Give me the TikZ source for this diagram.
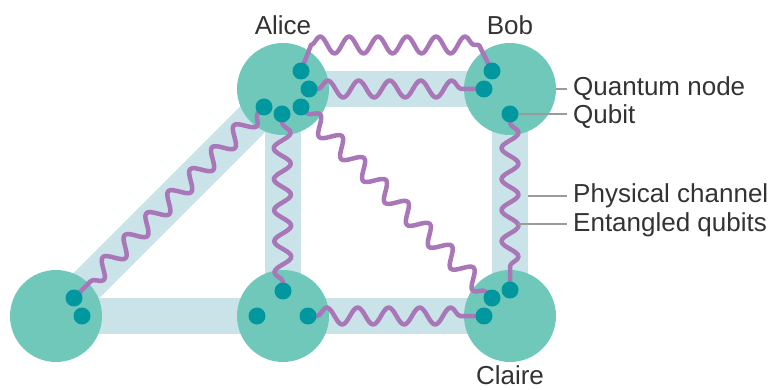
\documentclass[tikz,border=0pt]{standalone}
\usepackage{fontspec}
\setmainfont{Liberation Sans}
\usetikzlibrary{decorations.pathmorphing}
\definecolor{chan}{HTML}{C9E3E8}
\definecolor{qnode}{HTML}{6FC8BA}
\definecolor{qbit}{HTML}{00979F}
\definecolor{ent}{HTML}{A976B8}
\definecolor{leadc}{HTML}{9B9B9B}
\definecolor{txt}{HTML}{333333}
\pgfdeclarelayer{bg}
\pgfdeclarelayer{fg}
\pgfsetlayers{bg,main,fg}
\begin{document}
\begin{tikzpicture}[x=1pt,y=-1pt,
 qn/.style={circle,fill=qnode,minimum size=92pt,inner sep=0pt},
 qb/.style={circle,fill=qbit,minimum size=17pt,inner sep=0pt},
 channel/.style={line width=36pt,chan},
 wavebase/.style={line width=4.5pt,ent,line cap=round,line join=round},
 wave/.style={wavebase,decorate,decoration={snake,amplitude=8.5pt,segment length=31pt,pre length=9pt,post length=9pt}},
 snk/.style={decoration={snake,amplitude=8.5pt,segment length=29pt}},
 leader/.style={line width=2pt,leadc},
 lbl/.style={text=txt,font=\fontsize{26}{30}\selectfont,inner sep=0pt}]
\useasboundingbox (0,0) rectangle (771,390);
% quantum nodes
\node[qn] (alice) at (283,89) {};
\node[qn] (bob) at (510,89) {};
\node[qn] (claire) at (510,316) {};
\node[qn] (mid) at (283,316) {};
\node[qn] (left) at (56,316) {};
% physical channels
\begin{pgfonlayer}{bg}
\draw[channel] (alice.center) -- (bob.center);
\draw[channel] (bob.center) -- (claire.center);
\draw[channel] (mid.center) -- (claire.center);
\draw[channel] (left.center) -- (mid.center);
\draw[channel] (alice.center) -- (mid.center);
\draw[channel] (alice.center) -- (left.center);
\end{pgfonlayer}
% qubits
\begin{pgfonlayer}{fg}
\node[qb] (a1) at (301,71) {};
\node[qb] (a2) at (309,89) {};
\node[qb] (a3) at (301,107) {};
\node[qb] (a4) at (282,114) {};
\node[qb] (a5) at (264,107) {};
\node[qb] (b1) at (492,71) {};
\node[qb] (b2) at (484,89) {};
\node[qb] (b3) at (510,114) {};
\node[qb] (c1) at (510,290) {};
\node[qb] (c2) at (492,298) {};
\node[qb] (c3) at (484,316) {};
\node[qb] (l1) at (74,298) {};
\node[qb] (l2) at (82,316) {};
\node[qb] (m1) at (283,291) {};
\node[qb] (m2) at (257,316) {};
\node[qb] (m3) at (308,316) {};
\end{pgfonlayer}
% entangled pairs
\coordinate (ta) at (311,45);
\coordinate (tb) at (479,45);
\draw[wavebase] (a1.center) -- (ta) decorate[snk]{ -- (tb)} -- (b1.center);
\draw[wave] (a2.center) -- (b2.center);
\draw[wave] (a3.center) -- (c2.center);
\draw[wave] (a4.center) -- (m1.center);
\draw[wave] (a5.center) -- (l1.center);
\draw[wave] (b3.center) -- (c1.center);
\draw[wave] (m3.center) -- (c3.center);
% names
\node[lbl,anchor=base] (nalice) at (283,35) {Alice};
\node[lbl,anchor=base] (nbob) at (510,35) {Bob};
\node[lbl,anchor=base] (nclaire) at (510,384) {Claire};
% legend
\node[lbl,anchor=base west] (tqn) at (573,96) {Quantum node};
\node[lbl,anchor=base west] (tqb) at (573,124) {Qubit};
\node[lbl,anchor=base west] (tpc) at (573,203) {Physical channel};
\node[lbl,anchor=base west] (teq) at (573,232) {Entangled qubits};
\coordinate (k1) at (567,89);
\coordinate (k2) at (567,114);
\coordinate (k3s) at (528,196);
\coordinate (k3) at (567,196);
\coordinate (k4s) at (518,224);
\coordinate (k4) at (567,224);
\draw[leader] (bob.east) -- (k1);
\draw[leader] (b3.east) -- (k2);
\draw[leader] (k3s) -- (k3);
\draw[leader] (k4s) -- (k4);
\end{tikzpicture}
\end{document}
